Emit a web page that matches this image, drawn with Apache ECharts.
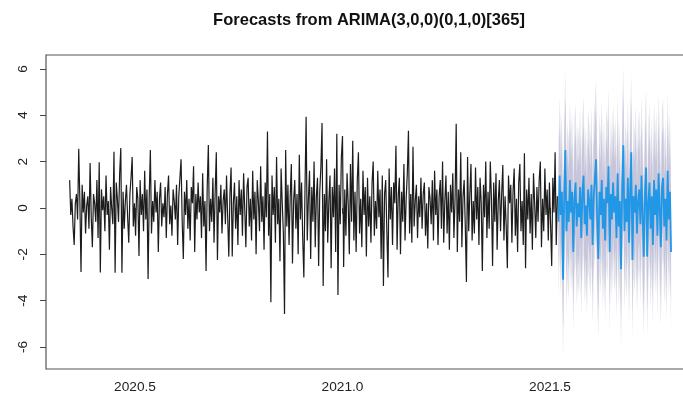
<!DOCTYPE html>
<html><head><meta charset="utf-8">
<script src="https://cdn.jsdelivr.net/npm/echarts@6/dist/echarts.min.js"></script>
<style>html,body{margin:0;padding:0;background:#fff}#c{width:683px;height:401px}</style>
</head><body><div id="c"></div>
<script>
const titleText = 'Forecasts from ARIMA(3,0,0)(0,1,0)[365]';
const startYear = 2020 + 125 / 365;
const frequency = 365;
const xTicks = [2020.5, 2021.0, 2021.5];
const yTicks = [-6, -4, -2, 0, 2, 4, 6];

const history = [
1.2,-0.3,0.4,-0.8,-1.6,0.2,0.6,-0.5,2.55,0.3,
-2.76,1.0,-0.2,0.7,-1.1,0.1,0.5,-0.9,1.94,-0.4,
-1.7,0.6,0.2,-0.6,1.2,-1.3,1.97,-2.79,0.8,-0.1,
0.5,-1.0,1.4,-0.3,0.3,-1.8,0.9,0.0,-0.7,2.42,
-2.8,1.1,0.4,-0.6,1.5,2.59,-2.8,0.7,-0.9,0.3,
1.0,-0.4,-1.5,0.6,1.3,2.2,-0.8,0.2,-1.2,0.9,
0.4,-2.07,1.2,-0.3,0.6,-1.0,1.6,-0.5,0.8,-3.07,
0.5,2.5,-1.1,0.3,-0.6,1.2,-0.2,0.7,-1.9,0.4,
1.1,-0.8,0.2,-0.4,0.9,-1.3,0.6,1.4,-0.7,0.1,
-1.2,0.8,0.3,-0.5,1.0,-1.6,0.5,1.3,2.1,-0.6,
-2.2,0.7,-0.3,1.2,-0.9,0.4,-1.4,0.9,0.2,1.8,
-1.9,0.6,-0.5,1.1,-0.2,0.5,-1.3,1.5,-0.8,0.3,
-2.72,0.9,2.72,-1.0,0.4,-0.6,1.3,-1.5,0.7,2.4,
-2.25,0.5,-0.2,1.0,-1.1,0.3,0.8,-0.7,1.4,-0.4,
-2.1,0.6,1.74,-2.1,0.2,1.1,-0.9,0.5,-1.6,1.2,
-0.3,0.8,-1.2,1.5,0.0,-1.7,0.9,1.3,-0.8,0.4,
-1.4,1.6,-0.5,0.7,-2.0,1.2,0.3,-1.0,1.8,-0.6,
0.5,-1.8,1.1,-0.4,3.3,-1.2,0.6,-4.07,1.4,-0.3,
0.9,-1.5,2.2,-0.7,0.4,-2.3,1.7,0.2,-1.1,-4.58,
2.5,-0.8,1.0,-1.6,0.5,1.9,-2.4,0.3,1.2,-0.9,
0.6,-2.0,2.3,-0.5,1.1,-1.3,-3.0,0.8,3.93,-1.4,
0.4,1.6,-2.2,0.9,-0.6,2.0,-1.7,0.5,1.3,-2.5,
0.7,1.8,3.67,-3.37,0.6,-1.0,2.1,-1.5,0.3,1.4,
-2.6,0.9,-0.4,1.7,-1.9,3.2,-3.76,1.0,-0.7,2.2,
3.1,-2.55,0.8,-1.2,1.5,0.2,-2.0,1.9,-0.6,2.9,
-1.4,0.7,-1.9,1.2,2.4,-1.1,0.4,-1.7,1.6,-0.3,
0.9,-2.1,1.3,-0.8,0.5,-1.5,1.1,2.0,-1.2,0.3,
-0.9,1.6,-0.4,0.8,-2.2,1.4,-3.37,0.6,1.2,-1.0,
-3.0,1.7,-0.5,0.9,-1.6,1.1,0.2,2.68,-1.8,0.5,
1.3,-2.0,0.7,-0.6,1.9,-1.4,0.4,1.5,3.33,-1.1,
0.6,-1.5,2.64,-0.8,0.3,1.0,-1.3,0.5,-0.4,1.3,
-0.9,0.6,1.1,-1.2,0.2,-1.75,0.9,0.4,-0.7,1.2,
-1.4,1.6,-0.3,0.8,-1.6,0.5,1.2,-0.9,2.0,-1.5,
0.3,1.4,-1.1,0.7,-1.8,1.0,-0.2,1.5,-1.3,0.4,
3.63,-1.9,0.8,-0.6,2.4,-1.7,0.5,1.2,-0.8,-3.2,
2.2,-1.0,0.6,1.9,-1.4,0.3,-1.1,1.75,-0.5,0.9,
-1.6,1.3,0.2,-2.72,1.0,-0.4,2.0,-1.3,0.7,-0.9,
2.0,0.4,-2.5,1.1,-0.6,1.5,-1.8,0.3,1.2,-1.0,
0.6,1.85,-1.4,0.5,-0.8,-2.6,1.4,0.2,1.0,-1.5,
0.7,1.7,-1.2,0.4,-1.9,1.1,1.9,-1.0,0.3,-1.6,
2.36,-2.6,0.8,-0.5,1.3,-1.1,0.6,-1.8,1.5,0.2,
-1.3,0.9,-0.6,1.2,2.0,-1.7,0.4,-1.0,1.7,-0.3,
0.8,-1.4,1.1,-0.7,-2.5,1.3,-0.2,2.4,-1.6,0.5
];

const forecastMean = [
-0.6,1.4,-0.3,0.7,-3.1,
0.6,2.5,-1.0,0.3,-0.6,1.2,-0.2,0.7,-1.9,0.4,
1.1,-0.8,0.2,-0.4,0.9,-1.3,0.6,1.4,-0.7,0.1,
-1.2,0.8,0.3,-0.5,1.0,-1.6,0.5,1.3,2.1,-0.6,
-2.2,0.7,-0.3,1.2,-0.9,0.4,-1.4,0.9,0.2,1.8,
-1.9,0.6,-0.5,1.1,-0.2,0.5,-1.3,1.5,-0.8,0.3,
-2.65,0.9,2.7,-1.0,0.4,-0.6,1.3,-1.5,0.7,2.4,
-2.25,0.5,-0.2,1.0,-1.1,0.3,0.8,-0.7,1.4,-0.4,
-2.1,0.6,1.74,-2.1,0.2,1.1,-0.9,0.5,-1.6,1.2,
-0.3,0.8,-1.2,1.5,0.0,-1.7,0.9,1.3,-0.8,0.4,
-1.4,1.6,-0.5,0.7,-1.9
];

const upper95 = [
2.8,4.8,3.1,4.1,0.3,
4.0,5.9,2.4,3.7,2.8,4.6,3.2,4.1,1.5,3.8,
4.5,2.6,3.6,3.0,4.3,2.1,4.0,4.8,2.7,3.5,
2.2,4.2,3.7,2.9,4.4,1.8,3.9,4.7,5.5,2.8,
1.2,4.1,3.1,4.6,2.5,3.8,2.0,4.3,3.6,5.2,
1.5,4.0,2.9,4.5,3.2,3.9,2.1,4.9,2.6,3.7,
0.75,4.3,6.1,2.4,3.8,2.8,4.7,1.9,4.1,5.8,
1.15,3.9,3.2,4.4,2.3,3.7,4.2,2.7,4.8,3.0,
1.3,4.0,5.14,1.3,3.6,4.5,2.5,3.9,1.8,4.6,
3.1,4.2,2.2,4.9,3.4,1.7,4.3,4.7,2.6,3.8,
2.0,5.0,2.9,4.1,1.5
];
const lower95 = [
-4.0,-2.0,-3.7,-2.7,-6.5,
-2.8,-0.9,-4.4,-3.1,-4.0,-2.2,-3.6,-2.7,-5.3,-3.0,
-2.3,-4.2,-3.2,-3.8,-2.5,-4.7,-2.8,-2.0,-4.1,-3.3,
-4.6,-2.6,-3.1,-3.9,-2.4,-5.0,-2.9,-2.1,-1.3,-4.0,
-5.6,-2.7,-3.7,-2.2,-4.3,-3.0,-4.8,-2.5,-3.2,-1.6,
-5.3,-2.8,-3.9,-2.3,-3.6,-2.9,-4.7,-1.9,-4.2,-3.1,
-6.05,-2.5,-0.7,-4.4,-3.0,-4.0,-2.1,-4.9,-2.7,-1.0,
-5.65,-2.9,-3.6,-2.4,-4.5,-3.1,-2.6,-4.1,-2.0,-3.8,
-5.5,-2.8,-1.66,-5.5,-3.2,-2.3,-4.3,-2.9,-5.0,-2.2,
-3.7,-2.6,-4.6,-1.9,-3.4,-5.1,-2.5,-2.1,-4.2,-3.0,
-4.8,-1.8,-3.9,-2.7,-5.3
];
const upper80 = [
1.6,3.6,1.9,2.9,-0.9,
2.8,4.7,1.2,2.5,1.6,3.4,2.0,2.9,0.3,2.6,
3.3,1.4,2.4,1.8,3.1,0.9,2.8,3.6,1.5,2.3,
1.0,3.0,2.5,1.7,3.2,0.6,2.7,3.5,4.3,1.6,
0.0,2.9,1.9,3.4,1.3,2.6,0.8,3.1,2.4,4.0,
0.3,2.8,1.7,3.3,2.0,2.7,0.9,3.7,1.4,2.5,
-0.45,3.1,4.9,1.2,2.6,1.6,3.5,0.7,2.9,4.6,
-0.05,2.7,2.0,3.2,1.1,2.5,3.0,1.5,3.6,1.8,
0.1,2.8,3.94,0.1,2.4,3.3,1.3,2.7,0.6,3.4,
1.9,3.0,1.0,3.7,2.2,0.5,3.1,3.5,1.4,2.6,
0.8,3.8,1.7,2.9,0.3
];
const lower80 = [
-2.8,-0.8,-2.5,-1.5,-5.3,
-1.6,0.3,-3.2,-1.9,-2.8,-1.0,-2.4,-1.5,-4.1,-1.8,
-1.1,-3.0,-2.0,-2.6,-1.3,-3.5,-1.6,-0.8,-2.9,-2.1,
-3.4,-1.4,-1.9,-2.7,-1.2,-3.8,-1.7,-0.9,-0.1,-2.8,
-4.4,-1.5,-2.5,-1.0,-3.1,-1.8,-3.6,-1.3,-2.0,-0.4,
-4.1,-1.6,-2.7,-1.1,-2.4,-1.7,-3.5,-0.7,-3.0,-1.9,
-4.85,-1.3,0.5,-3.2,-1.8,-2.8,-0.9,-3.7,-1.5,0.2,
-4.45,-1.7,-2.4,-1.2,-3.3,-1.9,-1.4,-2.9,-0.8,-2.6,
-4.3,-1.6,-0.46,-4.3,-2.0,-1.1,-3.1,-1.7,-3.8,-1.0,
-2.5,-1.4,-3.4,-0.7,-2.2,-3.9,-1.3,-0.9,-3.0,-1.8,
-3.6,-0.6,-2.7,-1.5,-4.1
];

const histData = history.map((v, i) => [startYear + i / frequency, v]);
const fcTime = forecastMean.map((v, j) => startYear + (history.length + j) / frequency);
const fcData = forecastMean.map((v, j) => [fcTime[j], v]);

function band(upper, lower, color) {
  return {
    type: 'custom', silent: true, z: 1, clip: true,
    encode: { x: 0, y: 1 },
    data: [[fcTime[0], upper[0]]],
    renderItem: function (params, api) {
      const pts = [];
      for (let j = 0; j < upper.length; j++) pts.push(api.coord([fcTime[j], upper[j]]));
      for (let j = lower.length - 1; j >= 0; j--) pts.push(api.coord([fcTime[j], lower[j]]));
      return { type: 'polygon', shape: { points: pts }, style: { fill: color, stroke: null } };
    }
  };
}

const font = 'Liberation Sans, Arial, Helvetica, sans-serif';
const chart = echarts.init(document.getElementById('c'), null, { renderer: 'canvas' });
chart.setOption({
  animation: false,
  backgroundColor: '#fff',
  title: {
    text: titleText, left: 369, top: 12, padding: 0, textAlign: 'center',
    textStyle: { fontSize: 16.5, fontWeight: 'bold', color: '#111', fontFamily: font }
  },
  grid: {
    left: 46, top: 55, width: 646, height: 314,
    show: true, borderColor: '#555', borderWidth: 1.2, backgroundColor: 'transparent',
    outerBoundsMode: 'none', containLabel: false
  },
  xAxis: {
    type: 'value', min: 2020.2855, max: 2021.8422,
    axisLine: { show: false },
    splitLine: { show: false },
    axisTick: { show: true, length: 6, customValues: xTicks, lineStyle: { color: '#444', width: 1 } },
    axisLabel: { customValues: xTicks, formatter: v => v.toFixed(1), fontSize: 13.7, color: '#222', margin: 11, fontFamily: font }
  },
  yAxis: {
    type: 'value', min: -6.95, max: 6.6,
    axisLine: { show: false },
    splitLine: { show: false },
    axisTick: { show: true, length: 6, customValues: yTicks, lineStyle: { color: '#444', width: 1 } },
    axisLabel: { customValues: yTicks, rotate: 90, fontSize: 13.7, color: '#222', margin: 16, fontFamily: font }
  },
  series: [
    band(upper95, lower95, '#E3E3EC'),
    band(upper80, lower80, '#C6C5DB'),
    {
      type: 'line', data: histData, showSymbol: false, symbol: 'none', z: 3,
      lineStyle: { color: '#1c1c1c', width: 1.2 }, silent: true
    },
    {
      type: 'line', data: fcData, showSymbol: false, symbol: 'none', z: 4,
      lineStyle: { color: '#2297E6', width: 1.8 }, silent: true
    }
  ]
});
</script>
</body></html>
